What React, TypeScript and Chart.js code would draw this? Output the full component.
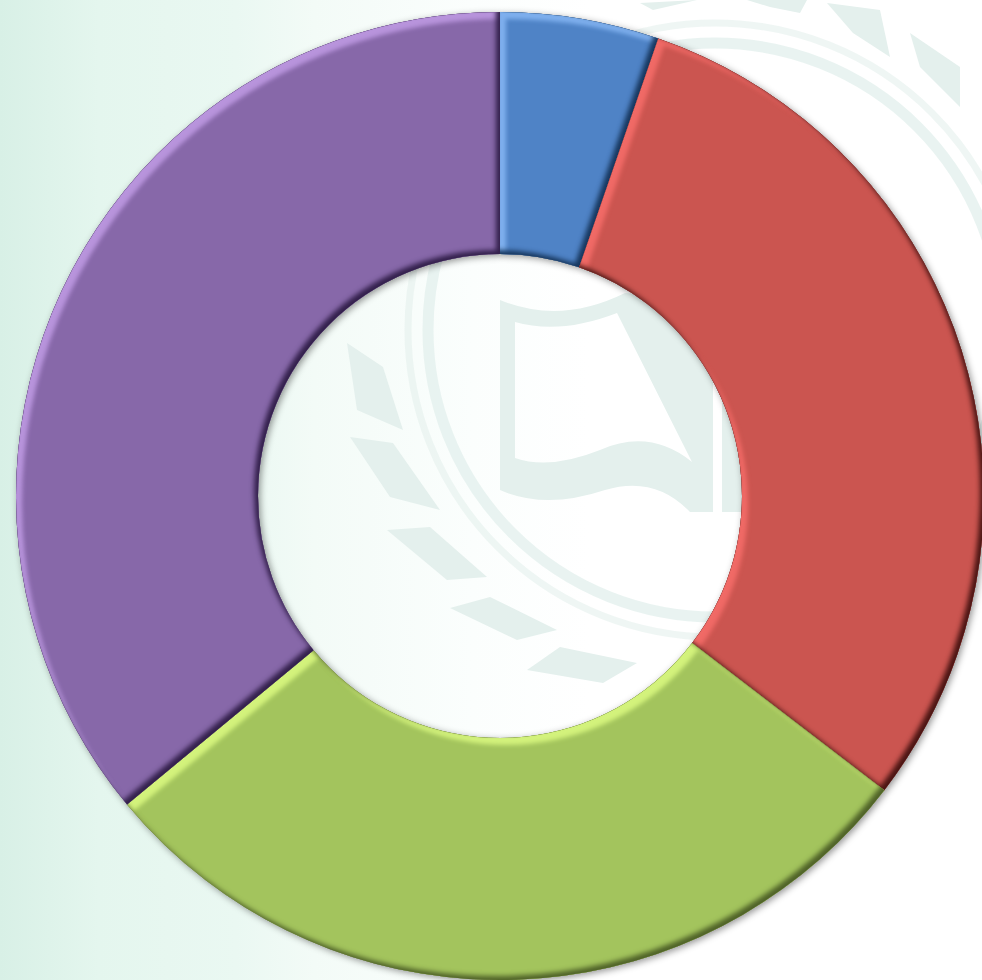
import React, { useEffect, useRef } from "react";
import { Chart, registerables } from "chart.js";

Chart.register(...registerables);

const categories = ["Q1", "Q2", "Q3", "Q4"];
const seriesValues = [5.3, 30.1, 28.6, 36.0];
const sliceColors = ["#4f83c6", "#cb5550", "#a3c45d", "#8768a9"];
const highlightColors = ["#7fb0ee", "#f06a66", "#d3f27c", "#b894dc"];
const shadeColors = ["#17375e", "#4a1513", "#4f6228", "#33204c"];

const WM = "#e4f0ed";
const leaves = [
  "347,343 383,367 403,430 357,410",
  "350,437 393,443 440,510 390,497",
  "387,530 430,527 487,577 447,580",
  "450,608 490,597 557,630 517,640",
  "527,670 560,647 637,663 603,683",
  "910,33 960,67 960,107 920,67",
  "827,3 880,10 890,57 853,33",
  "747,0 807,0 800,13 770,7",
  "640,3 697,0 653,10",
];

function arcPath(p: Path2D, e: any) {
  p.moveTo(e.x + e.outerRadius * Math.cos(e.startAngle), e.y + e.outerRadius * Math.sin(e.startAngle));
  p.arc(e.x, e.y, e.outerRadius, e.startAngle, e.endAngle);
  p.arc(e.x, e.y, e.innerRadius, e.endAngle, e.startAngle, true);
  p.closePath();
}

const bevelPlugin = {
  id: "bevel",
  beforeDatasetsDraw(chart: any) {
    const ctx = chart.ctx;
    ctx.save();
    ctx.shadowColor = "rgba(0,0,0,0.42)";
    ctx.shadowBlur = 7;
    ctx.shadowOffsetX = 2;
    ctx.shadowOffsetY = 2;
    ctx.fillStyle = "#666";
    chart.getDatasetMeta(0).data.forEach((el: any) => {
      const e = el.getProps(["x", "y", "startAngle", "endAngle", "innerRadius", "outerRadius"], true);
      const p = new Path2D();
      arcPath(p, e);
      ctx.fill(p);
    });
    ctx.restore();
  },
  afterDatasetsDraw(chart: any) {
    const ctx = chart.ctx;
    chart.getDatasetMeta(0).data.forEach((el: any, i: number) => {
      const e = el.getProps(["x", "y", "startAngle", "endAngle", "innerRadius", "outerRadius"], true);
      const shape = new Path2D();
      arcPath(shape, e);
      const hole = new Path2D();
      hole.rect(-2000, -2000, 6000, 6000);
      arcPath(hole, e);
      ctx.save();
      ctx.clip(shape);
      const passes: [string, number, number, number][] = [
        [highlightColors[i], 6, 7, 4],
        [shadeColors[i], -4, -4, 5],
      ];
      passes.forEach(([c, ox, oy, blur]) => {
        ctx.save();
        ctx.shadowColor = c;
        ctx.shadowOffsetX = ox;
        ctx.shadowOffsetY = oy;
        ctx.shadowBlur = blur;
        ctx.fillStyle = c;
        ctx.fill(hole, "evenodd");
        ctx.restore();
      });
      ctx.restore();
    });
  },
};

export default function App() {
  const ref = useRef<HTMLCanvasElement>(null);
  useEffect(() => {
    const chart = new Chart(ref.current as HTMLCanvasElement, {
      type: "doughnut",
      data: {
        labels: categories,
        datasets: [
          { data: seriesValues, backgroundColor: sliceColors, borderWidth: 0 },
        ],
      },
      options: {
        responsive: false,
        animation: false,
        cutout: "50%",
        layout: { padding: { left: 16, right: 6, top: 12, bottom: 10 } },
        plugins: { legend: { display: false }, tooltip: { enabled: false } },
      },
      plugins: [bevelPlugin],
    } as any);
    return () => chart.destroy();
  }, []);

  return (
    <div
      style={{
        position: "absolute",
        left: 0,
        top: 0,
        width: 982,
        height: 980,
        overflow: "hidden",
        background:
          "linear-gradient(90deg, #d8f0e6 0%, #e4f6ee 10%, #eaf8f2 24%, #f3fbf7 32%, #fbfefd 48%, #ffffff 60%)",
      }}
    >
      <svg width={982} height={980} style={{ position: "absolute", left: 0, top: 0 }}>
        <circle cx={715} cy={330} r={287} fill="none" stroke={WM} strokeWidth={11} opacity={0.8} />
        <circle cx={715} cy={330} r={307} fill="none" stroke={WM} strokeWidth={7} opacity={0.6} />
        {leaves.map((pts) => (
          <polygon key={pts} points={pts} fill={WM} />
        ))}
        <path
          fill={WM}
          fillRule="evenodd"
          d="M500 300 Q560 325 625 293 L713 300 L713 512 L690 512 Q655 475 605 490 Q545 510 500 490 Z
             M515 322 Q560 335 617 313 L692 462 Q650 428 600 450 Q550 470 515 458 Z"
        />
        <rect x={722} y={280} width={24} height={232} fill={WM} />
      </svg>
      <canvas
        ref={ref}
        width={990}
        height={990}
        style={{ position: "absolute", left: 0, top: 0, display: "block" }}
      />
    </div>
  );
}
